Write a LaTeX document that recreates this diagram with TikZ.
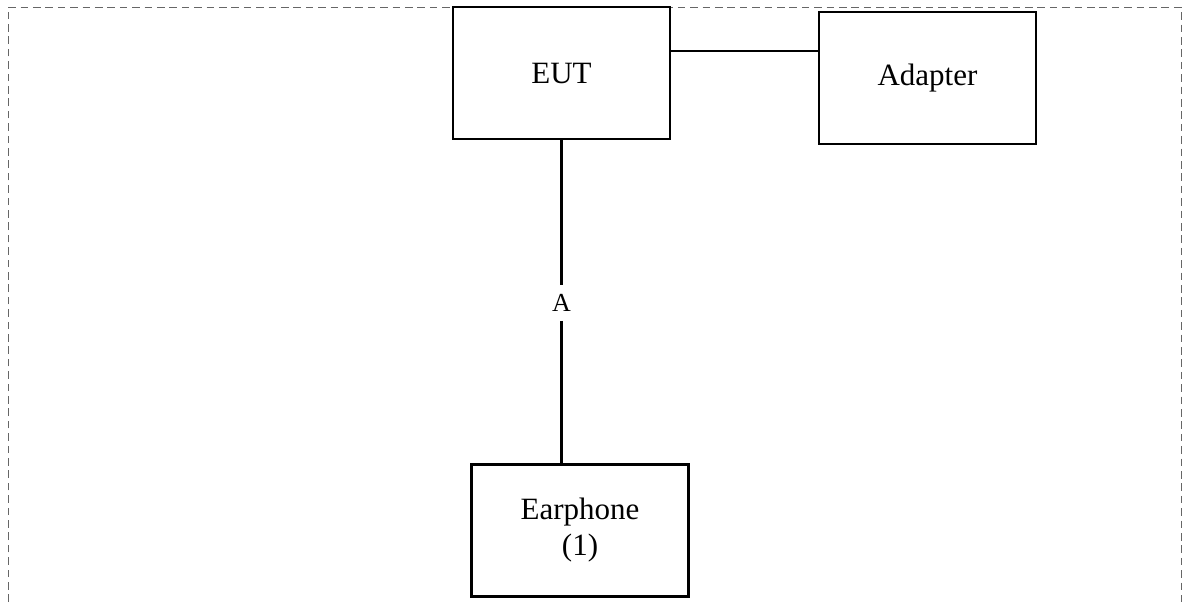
\documentclass[tikz,border=0pt]{standalone}
\usepackage{fontspec}
\setmainfont{Liberation Serif}
\usetikzlibrary{positioning}

\begin{document}
\begin{tikzpicture}[x=0.5pt,y=-0.5pt,unit/.style={draw,line width=1.1pt,minimum width=108.5pt,minimum height=66pt,align=center,font=\fontsize{15.5}{18}\selectfont},wire/.style={line width=1.1pt}]
\useasboundingbox (0,0) rectangle (1183,602);
\draw[black!60,line width=0.5pt,dash pattern=on 3.8pt off 2.4pt] (8,602)--(8,7)--(1181,7)--(1181,602);
\node[unit] (eut) at (561.5,73) {EUT};
\node[unit] (adapter) at (927.5,78) {Adapter};
\node[unit] (earphone) at (580,530.5) {Earphone\\(1)};
\node[font=\fontsize{13}{15}\selectfont,inner sep=4.5pt] (cableA) at (561.5,303) {A};
\coordinate (link) at (0,51);
\draw[wire] (eut.east |- link)--(adapter.west |- link);
\draw[wire] (eut.south)--(cableA.north);
\draw[wire] (cableA.south)--(cableA.south |- earphone.north);
\end{tikzpicture}
\end{document}
